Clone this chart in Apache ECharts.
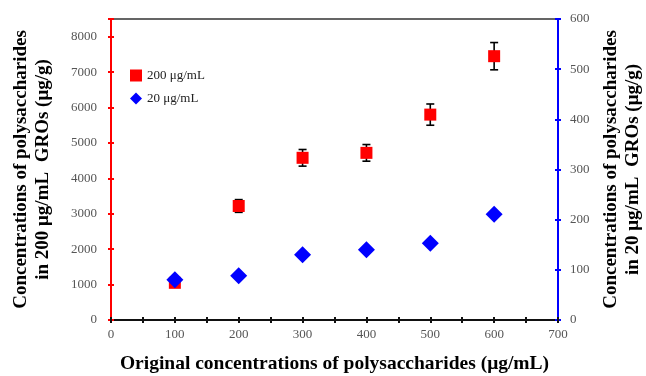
<!DOCTYPE html>
<html>
<head>
<meta charset="utf-8">
<script src="https://cdn.jsdelivr.net/npm/echarts@6/dist/echarts.min.js"></script>
<style>
  html, body { margin: 0; padding: 0; background: #fff; }
  #chart { width: 646px; height: 376px; }
</style>
</head>
<body>
<div id="chart"></div>
<script>
const doses = [100, 200, 300, 400, 500, 600];
const conc200 = [1050, 3220, 4580, 4720, 5800, 7450];
const err200 = [60, 180, 235, 235, 300, 385];
const conc20 = [80, 88, 130, 140, 153, 211];

const serif = "'Liberation Serif', 'DejaVu Serif', serif";
const tickColor = "#555";

const chart = echarts.init(document.getElementById("chart"));

const hideNonHundred = (v) => (v % 100 === 0 ? v : "");

// error bar for the 200 μg/mL series
const renderError = (params, api) => {
  const x = api.value(0);
  const y = api.value(1);
  const e = api.value(2);
  const hi = api.coord([x, y + e]);
  const lo = api.coord([x, y - e]);
  const cap = 4;
  const style = { stroke: "#000", lineWidth: 1.6 };
  return {
    type: "group",
    children: [
      { type: "line", shape: { x1: hi[0], y1: hi[1], x2: lo[0], y2: lo[1] }, style },
      { type: "line", shape: { x1: hi[0] - cap, y1: hi[1], x2: hi[0] + cap, y2: hi[1] }, style },
      { type: "line", shape: { x1: lo[0] - cap, y1: lo[1], x2: lo[0] + cap, y2: lo[1] }, style },
    ],
  };
};

const titleStyle = { fontFamily: serif, fontSize: 19, fontWeight: "bold", color: "#000", lineHeight: 22 };

const option = {
  animation: false,
  grid: { left: 111, right: 88, top: 19, bottom: 56, outerBoundsMode: "none", containLabel: false },
  legend: {
    orient: "vertical",
    left: 125,
    top: 64,
    itemWidth: 12,
    itemHeight: 12,
    itemGap: 10,
    data: ["200 μg/mL", "20 μg/mL"],
    textStyle: { fontFamily: serif, fontSize: 13, color: "#222" },
  },
  xAxis: [
    {
      type: "value",
      min: 0,
      max: 700,
      interval: 50,
      position: "bottom",
      name: "Original concentrations of polysaccharides (μg/mL)",
      nameLocation: "middle",
      nameGap: 34,
      nameTextStyle: { fontFamily: serif, fontSize: 19.5, fontWeight: "bold", color: "#000" },
      axisLine: { onZero: false, lineStyle: { color: "#111", width: 2 } },
      axisTick: { length: 3, lineStyle: { color: "#111", width: 2 } },
      axisLabel: { formatter: hideNonHundred, margin: 8, fontFamily: serif, fontSize: 13, color: tickColor },
      splitLine: { show: false },
    },
    {
      type: "value",
      min: 0,
      max: 700,
      interval: 50,
      position: "bottom",
      axisLine: { show: false, onZero: false },
      axisTick: { inside: true, length: 3, lineStyle: { color: "#111", width: 2 } },
      axisLabel: { show: false },
      splitLine: { show: false },
    },
    {
      type: "value",
      min: 0,
      max: 700,
      position: "top",
      axisLine: { onZero: false, lineStyle: { color: "#333", width: 1.5 } },
      axisTick: { show: false },
      axisLabel: { show: false },
      splitLine: { show: false },
    },
  ],
  yAxis: [
    {
      type: "value",
      min: 0,
      max: 8500,
      interval: 1000,
      position: "left",
      name: "Concentrations of polysaccharides\nin 200 μg/mL  GROs (μg/g)",
      nameLocation: "middle",
      nameRotate: 90,
      nameGap: 57,
      nameTextStyle: titleStyle,
      axisLine: { onZero: false, lineStyle: { color: "#ff0000", width: 2 } },
      axisTick: { length: 3, lineStyle: { color: "#ff0000", width: 2 } },
      axisLabel: {
        formatter: (v) => (v % 1000 === 0 ? v : ""),
        margin: 14,
        fontFamily: serif,
        fontSize: 13,
        color: tickColor,
      },
      splitLine: { show: false },
    },
    {
      type: "value",
      min: 0,
      max: 600,
      interval: 100,
      position: "right",
      name: "Concentrations of polysaccharides\nin 20 μg/mL  GROs (μg/g)",
      nameLocation: "middle",
      nameRotate: 90,
      nameGap: 41,
      nameTextStyle: titleStyle,
      axisLine: { onZero: false, lineStyle: { color: "#0000ff", width: 2 } },
      axisTick: { length: 3, lineStyle: { color: "#0000ff", width: 2 } },
      axisLabel: { margin: 12, fontFamily: serif, fontSize: 13, color: tickColor },
      splitLine: { show: false },
    },
    {
      type: "value",
      min: 0,
      max: 8500,
      interval: 1000,
      position: "left",
      axisLine: { show: false, onZero: false },
      axisTick: { inside: true, length: 3, lineStyle: { color: "#ff0000", width: 2 } },
      axisLabel: { show: false },
      splitLine: { show: false },
    },
    {
      type: "value",
      min: 0,
      max: 600,
      interval: 100,
      position: "right",
      axisLine: { show: false, onZero: false },
      axisTick: { inside: true, length: 3, lineStyle: { color: "#0000ff", width: 2 } },
      axisLabel: { show: false },
      splitLine: { show: false },
    },
  ],
  series: [
    {
      type: "custom",
      xAxisIndex: 0,
      yAxisIndex: 0,
      renderItem: renderError,
      data: doses.map((d, i) => [d, conc200[i], err200[i]]),
      z: 1,
    },
    {
      name: "200 μg/mL",
      type: "scatter",
      xAxisIndex: 0,
      yAxisIndex: 0,
      symbol: "rect",
      symbolSize: 12,
      itemStyle: { color: "#ff0000", opacity: 1 },
      data: doses.map((d, i) => [d, conc200[i]]),
      z: 2,
    },
    {
      name: "20 μg/mL",
      type: "scatter",
      xAxisIndex: 0,
      yAxisIndex: 1,
      symbol: "diamond",
      symbolSize: 17,
      itemStyle: { color: "#0000ff", opacity: 1 },
      data: doses.map((d, i) => [d, conc20[i]]),
      z: 3,
    },
  ],
};

chart.setOption(option);
</script>
</body>
</html>
